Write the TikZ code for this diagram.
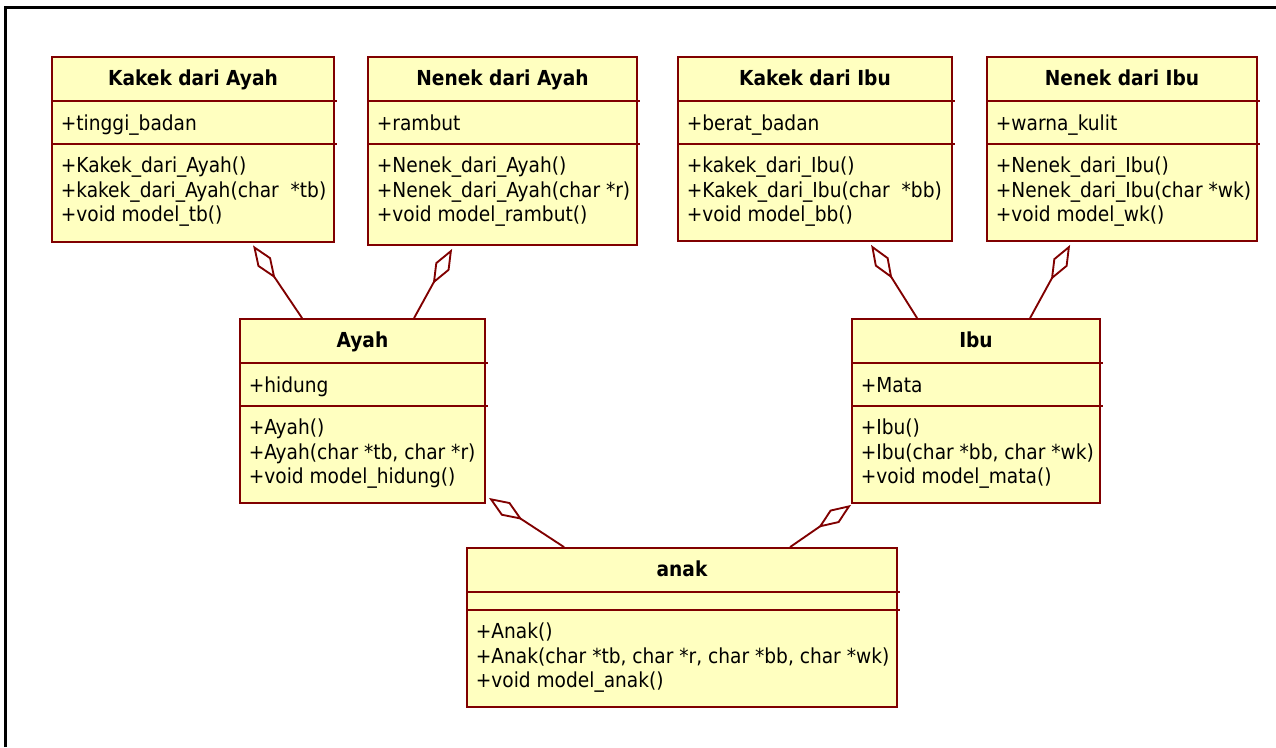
\documentclass[tikz,border=0pt]{standalone}
\usepackage{fontspec}
\setmainfont{DejaVu Sans Condensed}
\usetikzlibrary{arrows.meta,calc,fit}

\definecolor{clsfill}{RGB}{255,255,192}
\definecolor{clsline}{RGB}{128,0,0}

\tikzset{
  cls/.style={draw=clsline, fill=clsfill, line width=1.4pt, inner sep=0pt, rectangle},
  divider/.style={draw=clsline, line width=1.4pt},
  clstitle/.style={font=\bfseries\fontsize{15.5}{18}\selectfont, inner sep=0pt, anchor=mid},
  member/.style={font=\fontsize{15.5}{18}\selectfont, inner sep=0pt, anchor=mid west},
  aggr/.style={draw=clsline, line width=1.4pt, line join=miter,
    -{Diamond[open, length=30pt, width=12pt, line width=1.4pt]}},
  frame/.style={draw=black, line width=1.6pt}
}

% #1 name, #2 left, #3 top, #4 right, #5 bottom, #6 second divider offset,
% #7 title, #8 attribute, #9 operations
\newcommand\umlclass[9]{%
  \node[cls, fit={(#2,#3) (#4,#5)}] (#1) {};
  \draw[divider] ($(#1.north west)+(0,45)$) -- ($(#1.north east)+(2,45)$);
  \draw[divider] ($(#1.north west)+(0,#6)$) -- ($(#1.north east)+(2,#6)$);
  \node[clstitle] at ($(#1.north)+(0,26)$) {#7};
  \node[member] at ($(#1.north west)+(9.5,45+25.5)$) {#8};
  \foreach \op [count=\k] in {#9}
    \node[member] at ($(#1.north west)+(9.5,#6+25+24.5*\k-24.5)$) {\op};
}

\begin{document}
\begin{tikzpicture}[x=0.75pt, y=-0.75pt]
  \useasboundingbox (0,0) rectangle (1276,747);

  % page frame (only the left and top edges fall inside the picture)
  \draw[frame] (5.5,747) -- (5.5,7.5) -- (1276,7.5);

  % grandparents
  \umlclass{kakekA}{52}{57}{334}{242}{88}{Kakek dari Ayah}{+tinggi\_badan}
    {{+Kakek\_dari\_Ayah()},{+kakek\_dari\_Ayah(char~ *tb)},{+void model\_tb()}}
  \umlclass{nenekA}{368}{57}{637}{245}{88}{Nenek dari Ayah}{+rambut}
    {{+Nenek\_dari\_Ayah()},{+Nenek\_dari\_Ayah(char *r)},{+void model\_rambut()}}
  \umlclass{kakekI}{678}{57}{952}{241}{88}{Kakek dari Ibu}{+berat\_badan}
    {{+kakek\_dari\_Ibu()},{+Kakek\_dari\_Ibu(char~ *bb)},{+void model\_bb()}}
  \umlclass{nenekI}{987}{57}{1257}{241}{88}{Nenek dari Ibu}{+warna\_kulit}
    {{+Nenek\_dari\_Ibu()},{+Nenek\_dari\_Ibu(char *wk)},{+void model\_wk()}}

  % parents
  \umlclass{ayah}{240}{319}{485}{503}{88}{Ayah}{+hidung}
    {{+Ayah()},{+Ayah(char *tb, char *r)},{+void model\_hidung()}}
  \umlclass{ibu}{852}{319}{1100}{503}{88}{Ibu}{+Mata}
    {{+Ibu()},{+Ibu(char *bb, char *wk)},{+void model\_mata()}}

  % child
  \umlclass{anak}{467}{548}{897}{707}{63}{anak}{}
    {{+Anak()},{+Anak(char *tb, char *r, char *bb, char *wk)},{+void model\_anak()}}

  % aggregations
  \draw[aggr] ($(ayah.north west)+(63,0)$) -- ($(kakekA.south west)+(202,2.5)$);
  \draw[aggr] ($(ayah.north west)+(175,0)$) -- ($(nenekA.south west)+(85,3)$);
  \draw[aggr] ($(ibu.north west)+(66,0)$) -- ($(kakekI.south west)+(194,3)$);
  \draw[aggr] ($(ibu.north west)+(179,0)$) -- ($(nenekI.south west)+(84,3)$);
  \draw[aggr] ($(anak.north west)+(98,0)$) -- ($(ayah.south east)+(3,-6)$);
  \draw[aggr] ($(anak.north west)+(324,0)$) -- ($(ibu.south west)+(0,1)$);
\end{tikzpicture}
\end{document}
